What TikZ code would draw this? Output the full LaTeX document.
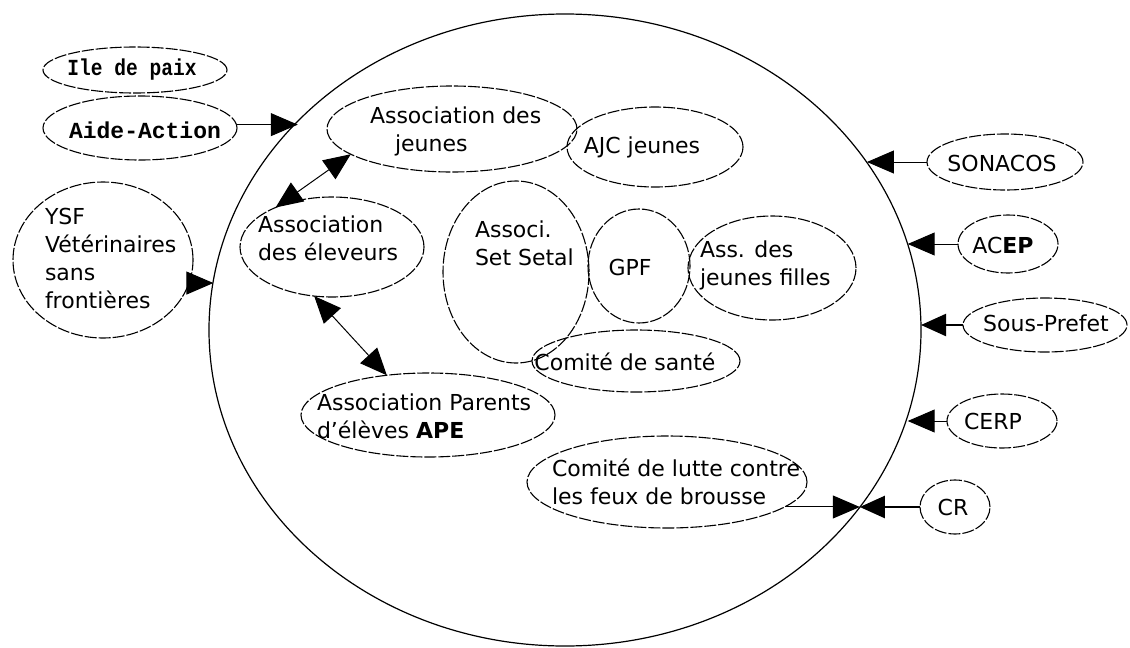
\documentclass[tikz,border=0pt]{standalone}
\usepackage{graphicx}
\usepackage{fontspec}
\setmainfont{DejaVu Sans}
\newfontfamily\monob{Liberation Mono}
\usetikzlibrary{shapes.geometric,arrows.meta}
\begin{document}
\begin{tikzpicture}[x=1pt,y=-1pt,
  ell/.style={draw, ellipse, inner sep=0pt, outer sep=0pt, line width=1.1pt, dash pattern=on 12pt off 2pt},
  bigell/.style={draw, ellipse, inner sep=0pt, outer sep=0pt, line width=1.2pt},
  txt/.style={inner sep=0pt, outer sep=0pt, font=\fontsize{22}{28}\selectfont, align=left},
  mtxt/.style={inner sep=0pt, outer sep=0pt, font=\monob\bfseries\fontsize{23}{28}\selectfont},
  conn/.style={line width=1pt, -{Triangle[length=27pt,width=23pt]}},
  thickconn/.style={line width=2.2pt, -{Triangle[length=25pt,width=22pt]}},
  dconn/.style={line width=1pt, {Triangle[length=27pt,width=23pt]}-{Triangle[length=27pt,width=23pt]}},
]
\useasboundingbox (0,0) rectangle (1130,648);

% big circle
\node[bigell, minimum width=712pt, minimum height=632pt] (big) at (565,330) {};

% ellipses
\node[ell, minimum width=184pt, minimum height=46pt] (ile) at (135,70) {};
\node[ell, minimum width=194pt, minimum height=64pt] (aide) at (140,128) {};
\node[ell, minimum width=180pt, minimum height=156pt] (ysf) at (103,260) {};
\node[ell, minimum width=250pt, minimum height=86pt] (jeunes) at (452,129) {};
\node[ell, minimum width=176pt, minimum height=80pt] (ajc) at (655,147) {};
\node[ell, minimum width=184pt, minimum height=100pt] (elev) at (332,247) {};
\node[ell, minimum width=146pt, minimum height=182pt] (setal) at (516,272) {};
\node[ell, minimum width=102pt, minimum height=114pt] (gpf) at (639,266) {};
\node[ell, minimum width=168pt, minimum height=104pt] (filles) at (772,268) {};
\node[ell, minimum width=208pt, minimum height=62pt] (sante) at (636,361) {};
\node[ell, minimum width=254pt, minimum height=84pt] (ape) at (428,415) {};
\node[ell, minimum width=280pt, minimum height=92pt] (lutte) at (667,482) {};
\node[ell, minimum width=156pt, minimum height=56pt] (sonacos) at (1005,162) {};
\node[ell, minimum width=100pt, minimum height=58pt] (acep) at (1008,244) {};
\node[ell, minimum width=164pt, minimum height=54pt] (sous) at (1045,325) {};
\node[ell, minimum width=110pt, minimum height=54pt] (cerp) at (1002,421) {};
\node[ell, minimum width=70pt, minimum height=54pt] (cr) at (955,507) {};

% connectors
\draw[conn] (aide.2.4) -- (aide.2.4 -| big.142.7);
\draw[conn] (ysf.-15) -- (ysf.-15 -| big.172.4);
\draw[conn] (sonacos.west) -- (sonacos.west -| big.29.1);
\draw[conn] (acep.west) -- (acep.west -| big.14.1);
\draw[thickconn] (sous.west) -- (sous.west -| big.0.8);
\draw[conn] (cerp.west) -- (cerp.west -| big.-14.9);
\draw[thickconn] (cr.west) -- (cr.west -| big.-31.0);
\draw[conn] (lutte.-12.0) -- (lutte.-12.0 -| big.-31.0);
\draw[dconn] (elev.145.6) -- (jeunes.-166.2);
\draw[dconn] (elev.-110.4) -- (ape.136.5);

% texts
\node[mtxt] (t-ile) at (132,70) {\scalebox{0.85}[1]{Ile de paix}};
\node[mtxt] (t-aide) at (145,130) {Aide-Action};
\node[txt, anchor=west] (t-ysf) at (45,258) {YSF\\Vétérinaires\\sans\\frontières};
\node[txt, anchor=west] (t-jeunes) at (370,131) {Association des\\\hspace*{25pt}jeunes};
\node[txt] (t-ajc) at (642,147) {AJC jeunes};
\node[txt, anchor=west] (t-elev) at (258,238) {Association\\des éleveurs};
\node[txt, anchor=west] (t-setal) at (475,243) {Associ.\\Set Setal};
\node[txt] (t-gpf) at (630,267) {GPF};
\node[txt, anchor=west] (t-filles) at (700,265) {Ass. des\\jeunes filles};
\node[txt] (t-sante) at (625,362) {Comité de santé};
\node[txt, anchor=west] (t-ape) at (317,416) {Association Parents\\d'élèves \textbf{APE}};
\node[txt, anchor=west] (t-lutte) at (552,482) {Comité de lutte contre\\les feux de brousse};
\node[txt] (t-sonacos) at (1002,163) {SONACOS};
\node[txt] (t-acep) at (1003,245) {AC\textbf{EP}};
\node[txt] (t-sous) at (1046,323) {Sous-Prefet};
\node[txt] (t-cerp) at (993,421) {CERP};
\node[txt] (t-cr) at (953,507) {CR};
\end{tikzpicture}
\end{document}
